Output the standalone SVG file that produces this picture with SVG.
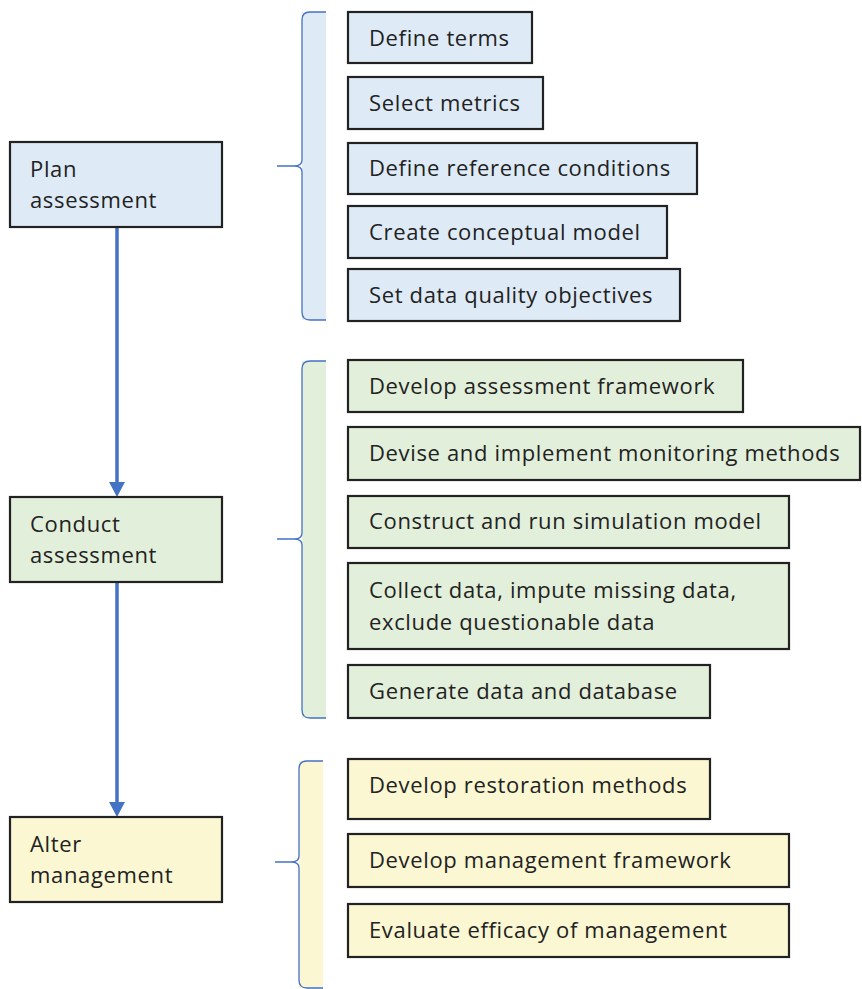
<svg xmlns="http://www.w3.org/2000/svg" width="862" height="989" viewBox="0 0 862 989">
<style>
text{font-family:"Open Sans","Noto Sans","DejaVu Sans",sans-serif;font-size:22px;letter-spacing:0.65px;fill:#222}
.box{stroke:#222;stroke-width:2.2}
.b{fill:#DEEBF7}.g{fill:#E2EFDA}.y{fill:#FAF7D2}
.brace{stroke:#4472C4;stroke-width:1.3;fill:none}
.arrow{stroke:#4472C4;stroke-width:3.5;fill:none}
.head{fill:#4472C4}
</style>
<g id="connectors">
<path class="arrow" d="M117,227 V482"/>
<path class="head" d="M109,482 L125,482 L117,497 Z"/>
<path class="arrow" d="M117,582 V802"/>
<path class="head" d="M109,802 L125,802 L117,817 Z"/>
</g>
<g id="brace-plan">
<path class="b" d="M302,12 H326 V320 H302 Z"/>
<path class="brace" d="M326,12 H310 Q302,12 302,20 V160 Q302,166 294,166 H277 H294 Q302,166 302,172 V312 Q302,320 310,320 H326"/>
</g>
<g id="brace-conduct">
<path class="g" d="M302,361 H326 V718 H302 Z"/>
<path class="brace" d="M326,361 H310 Q302,361 302,369 V533 Q302,539 294,539 H277 H294 Q302,539 302,545 V710 Q302,718 310,718 H326"/>
</g>
<g id="brace-alter">
<path class="y" d="M299,761 H323 V988 H299 Z"/>
<path class="brace" d="M323,761 H307 Q299,761 299,769 V856 Q299,862 291,862 H275 H291 Q299,862 299,868 V980 Q299,988 307,988 H323"/>
</g>
<g id="plan-assessment"><rect class="box b" x="10" y="142" width="212" height="85"/><text x="30" y="177">Plan</text><text x="30" y="208">assessment</text></g>
<g id="conduct-assessment"><rect class="box g" x="10" y="497" width="212" height="85"/><text x="30" y="532">Conduct</text><text x="30" y="563">assessment</text></g>
<g id="alter-management"><rect class="box y" x="10" y="817" width="212" height="85"/><text x="30" y="852">Alter</text><text x="30" y="883">management</text></g>

<g id="define-terms"><rect class="box b" x="348" y="12" width="184" height="51"/><text x="369" y="46">Define terms</text></g>
<g id="select-metrics"><rect class="box b" x="348" y="77" width="195" height="52"/><text x="369" y="111">Select metrics</text></g>
<g id="define-reference"><rect class="box b" x="348" y="143" width="349" height="51"/><text x="369" y="176">Define reference conditions</text></g>
<g id="create-model"><rect class="box b" x="348" y="206" width="319" height="52"/><text x="369" y="240">Create conceptual model</text></g>
<g id="set-dqo"><rect class="box b" x="348" y="269" width="332" height="52"/><text x="369" y="303">Set data quality objectives</text></g>

<g id="develop-framework"><rect class="box g" x="348" y="360" width="395" height="52"/><text x="369" y="394">Develop assessment framework</text></g>
<g id="devise-methods"><rect class="box g" x="348" y="427" width="512" height="53"/><text x="369" y="461">Devise and implement monitoring methods</text></g>
<g id="construct-model"><rect class="box g" x="348" y="496" width="441" height="52"/><text x="369" y="529">Construct and run simulation model</text></g>
<g id="collect-data"><rect class="box g" x="348" y="563" width="441" height="86"/><text x="369" y="598">Collect data, impute missing data,</text><text x="369" y="630">exclude questionable data</text></g>
<g id="generate-data"><rect class="box g" x="348" y="665" width="362" height="53"/><text x="369" y="699">Generate data and database</text></g>

<g id="develop-restoration"><rect class="box y" x="348" y="759" width="362" height="60"/><text x="369" y="793">Develop restoration methods</text></g>
<g id="develop-management"><rect class="box y" x="348" y="834" width="441" height="53"/><text x="369" y="868">Develop management framework</text></g>
<g id="evaluate-efficacy"><rect class="box y" x="348" y="904" width="441" height="53"/><text x="369" y="938">Evaluate efficacy of management</text></g>
</svg>
